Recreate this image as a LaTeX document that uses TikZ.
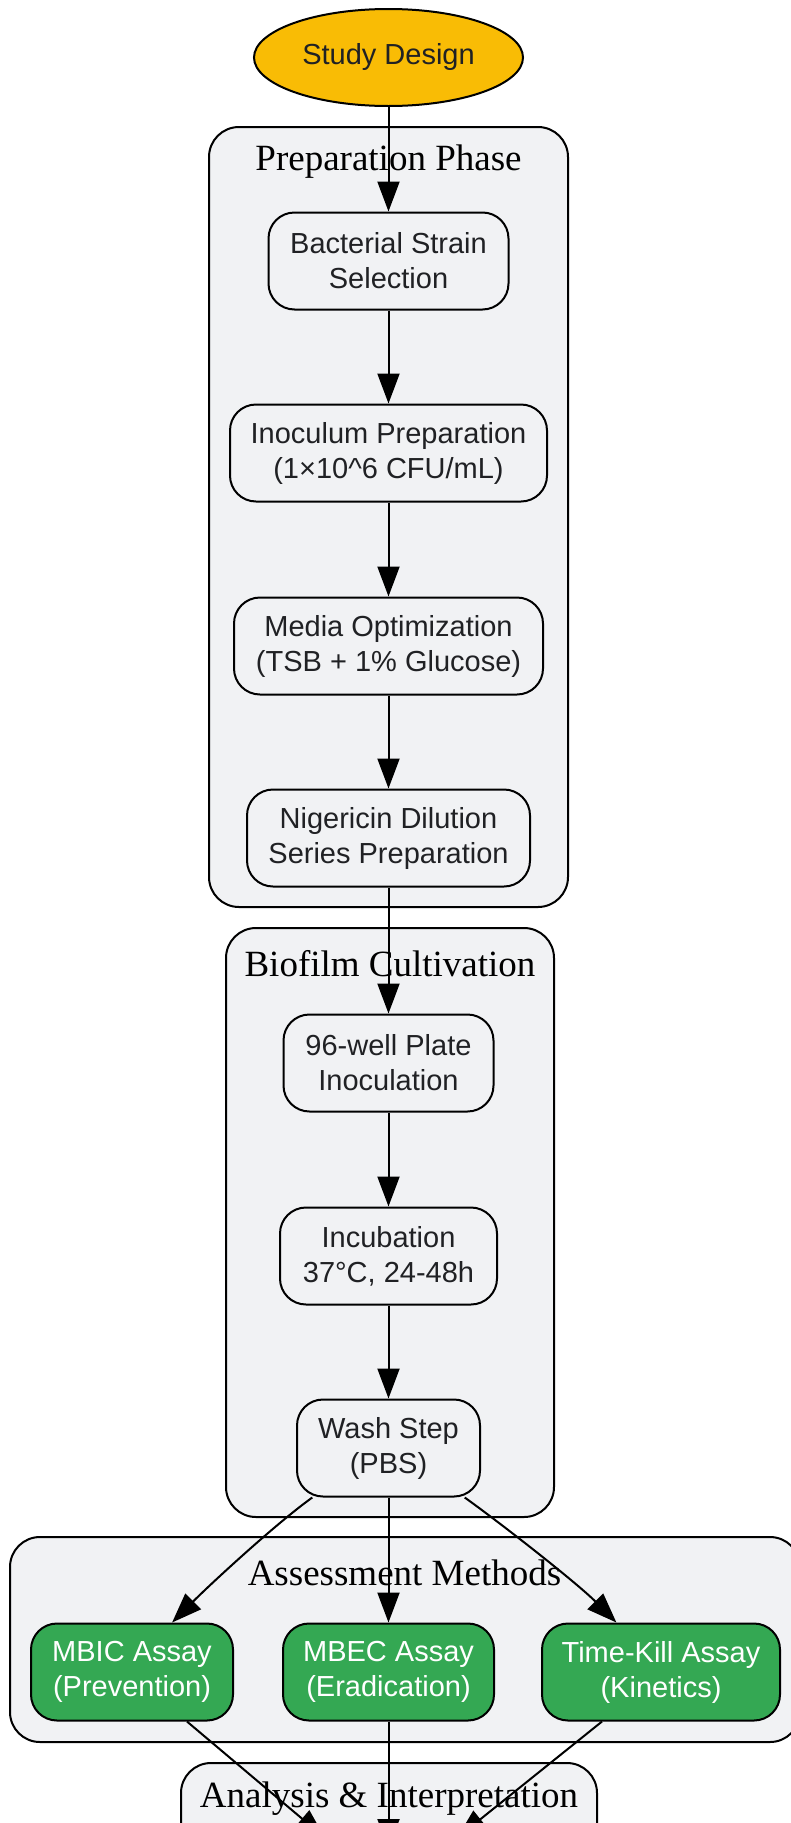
\documentclass[tikz,border=0pt]{standalone}
\usepackage{fontspec}
\setmainfont{Liberation Serif}
\newfontfamily\arialfont{Liberation Sans}
\usetikzlibrary{arrows.meta,shapes.geometric,calc}
\definecolor{clfill}{HTML}{F1F2F4}
\definecolor{txtgray}{HTML}{202124}
\definecolor{gyellow}{HTML}{F9BC05}
\definecolor{ggreen}{HTML}{34A853}
\tikzset{
  cluster/.style={draw=black, line width=2pt, fill=clfill, rounded corners=30pt},
  ctitle/.style={font=\fontsize{37}{44}\selectfont, text=black, inner sep=0pt},
  stepbox/.style={draw=black, line width=2pt, fill=clfill, rounded corners=26pt,
    minimum height=97pt, inner sep=0pt, align=center, text=txtgray,
    font=\arialfont\fontsize{29}{35}\selectfont},
  greenbox/.style={stepbox, fill=ggreen, text=white},
  startnode/.style={ellipse, draw=black, line width=2pt, fill=gyellow,
    minimum width=269pt, minimum height=97pt, inner sep=0pt, text=txtgray,
    font=\arialfont\fontsize{29}{35}\selectfont},
  edge/.style={draw=black, line width=2pt, -{Triangle[length=30pt,width=22pt]}}
}
\begin{document}
\begin{tikzpicture}[x=1pt,y=-1pt]
\useasboundingbox (0,0) rectangle (791,1823);
\clip (0,0) rectangle (791,1823);
% clusters
\draw[cluster] (209,127) rectangle (568,907);
\node[ctitle] (tprep) at (388.5,162) {Preparation Phase};
\draw[cluster] (226,928) rectangle (554,1517);
\node[ctitle] (tbio) at (390,964) {Biofilm Cultivation};
\draw[cluster] (10,1537) rectangle (800,1742);
\node[ctitle] (tass) at (404.5,1573) {Assessment Methods};
\draw[cluster] (181,1763) rectangle (597,1950);
\node[ctitle] (tana) at (389,1799) {Analysis \& Interpretation};
% nodes
\node[startnode] (study) at (388.5,57.5) {Study Design};
\node[stepbox, minimum width=240pt] (bact) at (388.5,261) {Bacterial Strain\\Selection};
\node[stepbox, minimum width=317pt] (inoc) at (388.5,453) {Inoculum Preparation\\(1×10\^{}6 CFU/mL)};
\node[stepbox, minimum width=309pt] (media) at (388.5,646) {Media Optimization\\(TSB + 1\% Glucose)};
\node[stepbox, minimum width=283pt] (nig) at (388.5,838) {Nigericin Dilution\\Series Preparation};
\node[stepbox, minimum width=210pt] (well) at (388.5,1063) {96-well Plate\\Inoculation};
\node[stepbox, minimum width=217pt] (incub) at (388.5,1256) {Incubation\\37°C, 24-48h};
\node[stepbox, minimum width=183pt] (wash) at (388.5,1448) {Wash Step\\(PBS)};
\node[greenbox, minimum width=202pt] (mbic) at (132,1672) {MBIC Assay\\(Prevention)};
\node[greenbox, minimum width=211pt] (mbec) at (388.5,1672) {MBEC Assay\\(Eradication)};
\node[greenbox, minimum width=238pt] (tk) at (661,1672) {Time-Kill Assay\\(Kinetics)};
\coordinate (cL) at (325,1838);
\coordinate (cM) at (388.5,1849);
\coordinate (cR) at (457,1838);
% edges
\draw[edge] (study) -- (bact);
\draw[edge] (bact) -- (inoc);
\draw[edge] (inoc) -- (media);
\draw[edge] (media) -- (nig);
\draw[edge] (nig) -- (well);
\draw[edge] (well) -- (incub);
\draw[edge] (incub) -- (wash);
\draw[edge] (wash.213) .. controls ($(wash.213)+(-35,25)$) and ($(mbic.51)+(40,-40)$) .. (mbic.51);
\draw[edge] (wash) -- (mbec);
\draw[edge] (wash.-33) .. controls ($(wash.-33)+(35,25)$) and ($(tk.132.6)+(-40,-40)$) .. (tk.132.6);
\draw[edge] (mbic.-42) -- (cL);
\draw[edge] (mbec) -- (cM);
\draw[edge] (tk.-140) -- (cR);
\end{tikzpicture}
\end{document}
